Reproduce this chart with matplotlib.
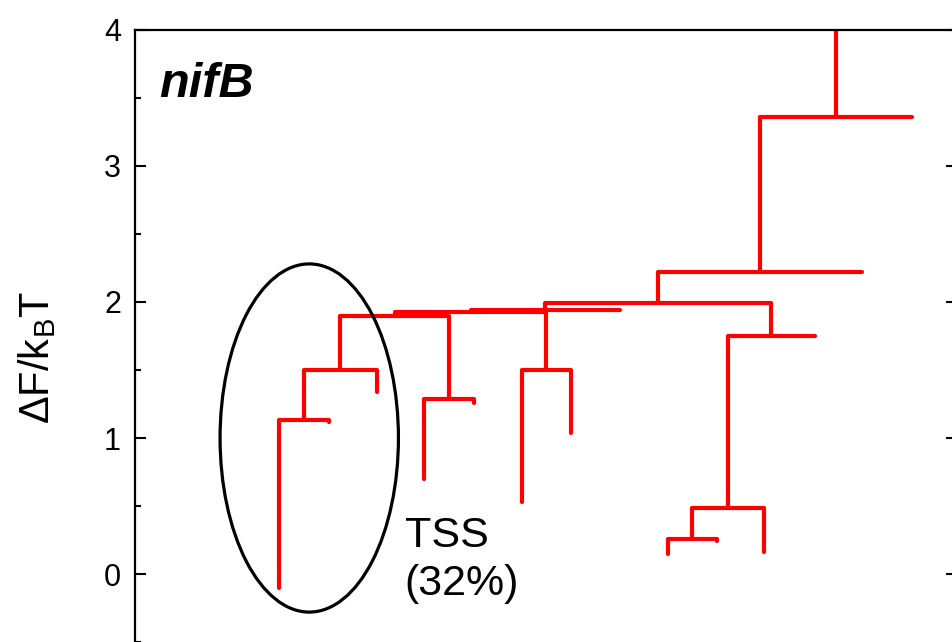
import matplotlib
matplotlib.use("Agg")
import matplotlib.pyplot as plt
from matplotlib.patches import Ellipse
from matplotlib.ticker import MultipleLocator

plt.rcParams['font.family'] = ['Liberation Sans', 'DejaVu Sans']
plt.rcParams['mathtext.fontset'] = 'custom'
plt.rcParams['mathtext.rm'] = 'Liberation Sans'

# Minima (leaves): horizontal position and free energy (kBT)
leaf_names = ['a1', 'a2', 'a3', 'b1', 'b2', 'c1', 'c2', 'g1',
              'e1', 'e2', 'e3', 'd2', 'h1', 'k1']
leaf_pos = [17.5, 23.6, 29.4, 35.2, 41.2, 47.1, 53.0, 59.0,
            64.8, 70.8, 76.5, 82.7, 88.4, 94.5]
leaf_energy = [-0.10, 1.12, 1.34, 0.70, 1.26, 0.53, 1.04, 1.94,
               0.15, 0.24, 0.16, 1.75, 2.22, 3.36]

# Merge points (internal nodes): name, left child, right child, barrier energy
node_names = ['A2', 'A1', 'B', 'C', 'L1', 'L2', 'L3',
              'F', 'E', 'D', 'L4', 'L5', 'L6']
node_left = ['a1', 'A2', 'b1', 'c1', 'A1', 'L1', 'L2',
             'e1', 'F', 'E', 'L3', 'L4', 'L5']
node_right = ['a2', 'a3', 'b2', 'c2', 'B', 'C', 'g1',
              'e2', 'e3', 'd2', 'D', 'h1', 'k1']
node_energy = [1.13, 1.50, 1.29, 1.50, 1.90, 1.93, 1.94,
               0.26, 0.485, 1.75, 1.99, 2.22, 3.36]
root_top = 4.0

y_ticks = [0, 1, 2, 3, 4]
gene_label = 'nifB'
state_label = 'TSS\n(32%)'

fig = plt.figure(figsize=(9.52, 6.42), dpi=100)
ax = fig.add_axes([0.1418, -0.0424, 0.8634, 0.9957])

pos = dict(zip(leaf_names, leaf_pos))
energy = dict(zip(leaf_names, leaf_energy))

red = '#ff0000'
line_kw = dict(color=red, lw=3.0, solid_capstyle='round',
               solid_joinstyle='round', zorder=2)

for name, left, right, e in zip(node_names, node_left, node_right, node_energy):
    xl, xr = pos[left], pos[right]
    ax.plot([xl, xl, xr, xr], [energy[left], e, e, energy[right]], **line_kw)
    pos[name] = 0.5 * (xl + xr)
    energy[name] = e

# stem of the top-level basin
top = node_names[-1]
ax.plot([pos[top], pos[top]], [energy[top], root_top], **line_kw)

# highlighted TSS basin
ax.add_patch(Ellipse((21.2, 1.0), width=21.7, height=2.56, fill=False,
                     edgecolor='black', lw=2.3, zorder=3))
ax.text(32.8, 0.43, state_label, fontsize=31, ha='left', va='top',
        linespacing=1.28, color='black')
ax.text(3.0, 3.51, gene_label, fontsize=35, fontweight='bold',
        fontstyle='italic', ha='left', va='baseline')

ax.set_xlim(0, 100)
ax.set_ylim(-0.7, 4.0)
ax.set_xticks([])
ax.set_yticks(y_ticks)
ax.yaxis.set_minor_locator(MultipleLocator(0.5))
ax.tick_params(axis='y', which='major', direction='in', length=8, width=1.5,
               labelsize=22, pad=10, right=True)
ax.tick_params(axis='y', which='minor', direction='in', length=4.5,
               width=1.5, right=False)
for sp in ax.spines.values():
    sp.set_linewidth(1.6)

ax.set_ylabel('ΔF/k$_\\mathregular{B}$T', fontsize=30)
ax.yaxis.set_label_coords(-0.094, 0.487)

fig.savefig('out.png', dpi=100)
